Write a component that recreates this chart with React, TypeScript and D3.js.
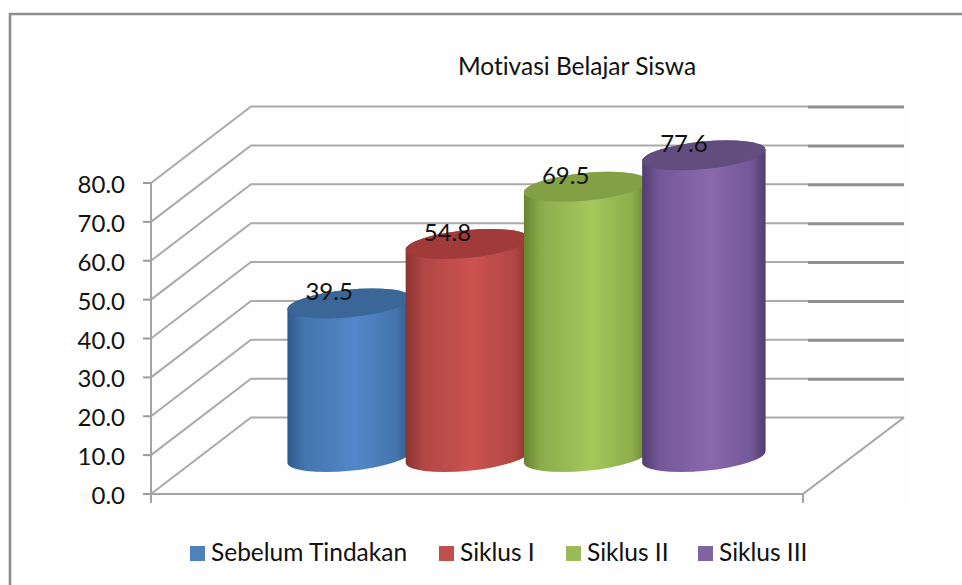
import React from "react";
import * as d3 from "d3";

const categories = ["Sebelum Tindakan", "Siklus I", "Siklus II", "Siklus III"];
const values = [39.5, 54.8, 69.5, 77.6];
const yTicks = [0, 10, 20, 30, 40, 50, 60, 70, 80];
const chartTitle = "Motivasi Belajar Siswa";

// side shading: edge, mid, centre, plus the top cap and legend swatch
const edgeColors = ["#2f5a8c", "#8a3431", "#67852f", "#513d6d"];
const midColors = ["#4475ad", "#b04644", "#8dac4c", "#73589a"];
const centerColors = ["#5487c9", "#cc5350", "#a6c75c", "#8a69ab"];
const capColors = ["#3a6797", "#a03b39", "#83a044", "#634d7e"];
const legendColors = ["#4f81bd", "#c0504d", "#9bbb59", "#8064a2"];
const legendX = [190, 439, 566, 698];

const frontX = 151;
const backX = 251;
const rightX = 904;
const frontRightX = 803;
const depthY = 76.5;
const tilt = -5.5;
const rx = 62;
const ry = 13.8;
const baseY = 457;
const font = "Lato, sans-serif";

const y = d3.scaleLinear().domain([0, 80]).range([494, 183]);
const x = d3.scaleBand<string>().domain(categories).range([290, 763]).padding(0);

function cylinder(cx: number, top: number) {
  const dx = rx * Math.cos((tilt * Math.PI) / 180);
  const dy = rx * Math.sin((tilt * Math.PI) / 180);
  const bottom = baseY;
  return [
    `M${cx - dx},${top - dy}`,
    `L${cx - dx},${bottom - dy}`,
    `A${rx},${ry} ${tilt} 0 0 ${cx + dx},${bottom + dy}`,
    `L${cx + dx},${top + dy}`,
    `A${rx},${ry} ${tilt} 0 0 ${cx - dx},${top - dy}`,
    "Z",
  ].join(" ");
}

export default function App() {
  const heightOf = (v: number) => y(0) - y(v);
  return (
    <div style={{ position: "absolute", left: 0, top: 0 }}>
      <svg width={962} height={585} style={{ display: "block", fontFamily: font, fontVariantLigatures: "none" }}>
        <defs>
          {categories.map((c, i) => (
            <linearGradient key={c} id={`side${i}`} x1="0" x2="1" y1="0" y2="0">
              <stop offset="0" stopColor={edgeColors[i]} />
              <stop offset="0.14" stopColor={midColors[i]} />
              <stop offset="0.55" stopColor={centerColors[i]} />
              <stop offset="0.88" stopColor={midColors[i]} />
              <stop offset="1" stopColor={edgeColors[i]} />
            </linearGradient>
          ))}
        </defs>
        <rect width={962} height={585} fill="#fff" />
        <rect x={145} y={100} width={765} height={405} fill="#fefefe" />
        <path d="M10,585 V14 H962" fill="none" stroke="#8e8e8e" strokeWidth={2.6} />

        <text x={577} y={75} textAnchor="middle" fontSize={24.5} fill="#111">
          {chartTitle}
        </text>

        {yTicks.map((t) => (
          <g key={t} fill="none">
            <path
              d={`M${frontX},${y(t)} L${backX},${y(t) - depthY} H${t === 0 ? rightX : 808}`}
              stroke="#aaa"
              strokeWidth={2}
            />
            {t > 0 && (
              <line x1={808} x2={rightX} y1={y(t) - depthY + 0.5} y2={y(t) - depthY + 0.5} stroke="#8f8f8f" strokeWidth={3} />
            )}
            <line x1={143} x2={frontX} y1={y(t)} y2={y(t)} stroke="#9a9a9a" strokeWidth={2} />
            <text x={125} y={y(t) + 10} textAnchor="end" fontSize={24} fill="#111" stroke="none">
              {t.toFixed(1)}
            </text>
          </g>
        ))}

        <g fill="none" stroke="#a4a4a4" strokeWidth={2}>
          <line x1={frontX} x2={frontX} y1={y(80)} y2={503} />
          <line x1={frontX} x2={frontRightX} y1={y(0)} y2={y(0)} />
          <line x1={frontRightX} x2={frontRightX} y1={y(0)} y2={503} />
          <line x1={frontRightX} x2={rightX} y1={y(0)} y2={y(0) - depthY} />
        </g>

        {categories.map((c, i) => {
          const cx = x(c)! + x.bandwidth() / 2;
          const top = baseY - heightOf(values[i]);
          return (
            <g key={c}>
              <path d={cylinder(cx, top)} fill={`url(#side${i})`} />
              <ellipse
                cx={cx}
                cy={top}
                rx={rx}
                ry={ry}
                transform={`rotate(${tilt} ${cx} ${top})`}
                fill={capColors[i]}
              />
            </g>
          );
        })}
        {categories.map((c, i) => {
          const cx = x(c)! + x.bandwidth() / 2;
          const top = baseY - heightOf(values[i]);
          return (
            <text key={c} x={cx - 20} y={top - 3} textAnchor="middle" fontSize={24} fill="#111">
              {values[i].toFixed(1)}
            </text>
          );
        })}

        {categories.map((c, i) => (
          <g key={c}>
            <rect x={legendX[i]} y={546} width={15} height={15} fill={legendColors[i]} />
            <text x={legendX[i] + 21} y={561} fontSize={24.5} fill="#111">
              {c}
            </text>
          </g>
        ))}
      </svg>
    </div>
  );
}
